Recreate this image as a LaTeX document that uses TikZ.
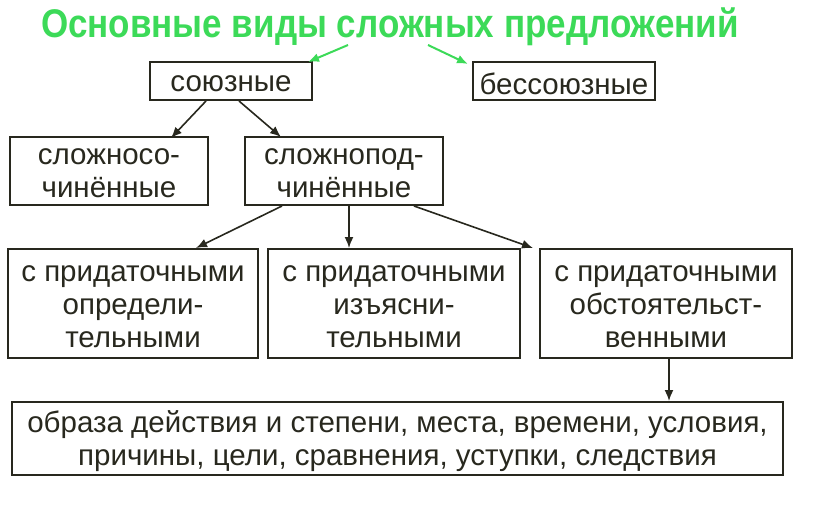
\documentclass[tikz,border=0pt]{standalone}
\usepackage{fontspec}
\setmainfont{Liberation Sans}
\usetikzlibrary{arrows.meta}
\definecolor{ink}{RGB}{40,40,30}
\definecolor{titlegreen}{RGB}{60,218,88}
\begin{document}
\begin{tikzpicture}[x=1pt,y=-1pt,
  box/.style={draw=ink,line width=2pt,inner sep=0pt},
  boxtext/.style={inner sep=0pt,align=center,text=ink,yshift=-3pt,
    font=\fontsize{29.5}{33}\selectfont},
  arr/.style={draw=ink,line width=1.6pt,-{Latex[length=11pt,width=9pt]}},
  garr/.style={draw=titlegreen,line width=2pt,-{Latex[length=11pt,width=9pt]}}]
\useasboundingbox (0,0) rectangle (816,511);
\node[text=titlegreen,font=\fontsize{40}{40}\bfseries\selectfont,inner sep=0pt] (title) at (390,27)
  {\scalebox{0.875}[1]{Основные виды сложных предложений}};
\node[box,minimum width=162pt,minimum height=38pt,label={[boxtext]center:союзные}] (A) at (231,81) {};
\node[box,minimum width=182pt,minimum height=38pt,label={[boxtext]center:бессоюзные}] (B) at (564,81) {};
\node[box,minimum width=198pt,minimum height=68pt,label={[boxtext,yshift=1pt]center:{сложносо-\\чинённые}}] (C) at (109,171) {};
\node[box,minimum width=198pt,minimum height=68pt,label={[boxtext,yshift=1pt]center:{сложнопод-\\чинённые}}] (D) at (344,171) {};
\node[box,minimum width=250pt,minimum height=109pt,label={[boxtext]center:{с придаточными\\определи-\\тельными}}] (E) at (133,303.5) {};
\node[box,minimum width=252pt,minimum height=109pt,label={[boxtext]center:{с придаточными\\изъясни-\\тельными}}] (F) at (394,303.5) {};
\node[box,minimum width=252pt,minimum height=109pt,label={[boxtext]center:{с придаточными\\обстоятельст-\\венными}}] (G) at (666,303.5) {};
\node[box,minimum width=771pt,minimum height=73pt,label={[boxtext]center:{образа действия и степени, места, времени, условия,\\причины, цели, сравнения, уступки, следствия}}] (H) at (397.5,438.5) {};
\coordinate (t1) at (348,45);
\coordinate (t2) at (428,45);
\draw[garr] (t1) -- ([xshift=-5pt,yshift=-1pt]A.north east);
\draw[garr] (t2) -- ([xshift=-4pt,yshift=-3pt]B.north west);
\draw[arr] ([xshift=57pt]A.south west) -- ([xshift=162pt,yshift=-2pt]C.north west);
\draw[arr] ([xshift=90pt]A.south west) -- ([xshift=37pt,yshift=-1pt]D.north west);
\draw[arr] ([xshift=38pt]D.south west) -- ([xshift=189pt]E.north west);
\draw[arr] ([xshift=105pt]D.south west) -- ([xshift=82pt]F.north west);
\draw[arr] ([xshift=170pt]D.south west) -- ([xshift=-6pt]G.north west);
\draw[arr] ([xshift=130pt]G.south west) -- ([xshift=658pt]H.north west);
\end{tikzpicture}
\end{document}
